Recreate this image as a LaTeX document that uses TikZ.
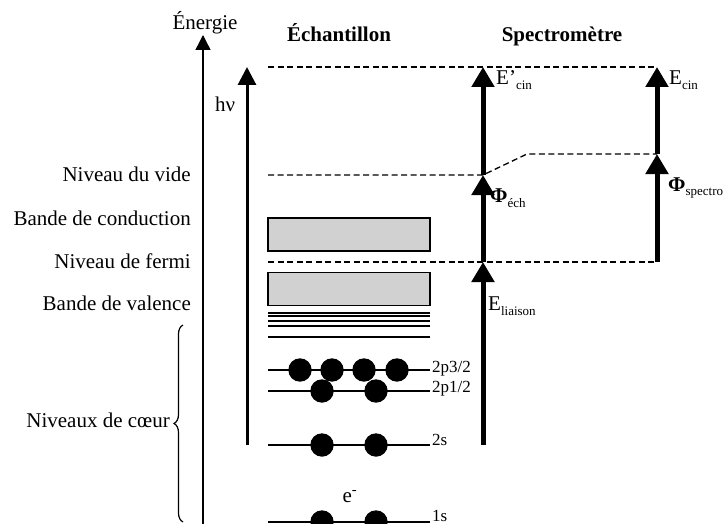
\documentclass[tikz,border=0pt]{standalone}
\usepackage{fontspec}
\setmainfont{Liberation Serif}
\usepackage{tikz}
\usetikzlibrary{arrows.meta, decorations.pathreplacing}

\newcommand{\lowsub}[1]{\raisebox{-0.5ex}{\fontsize{13}{13}\selectfont #1}}

\begin{document}
\begin{tikzpicture}[x=1pt, y=-1pt,
  txt/.style={font=\fontsize{21}{24}\selectfont, inner sep=0pt},
  lvl/.style={txt, anchor=base east},
  head/.style={txt, font=\fontsize{21}{24}\selectfont\bfseries, anchor=base},
  orb/.style={font=\fontsize{17}{20}\selectfont, inner sep=0pt, anchor=base west},
  band/.style={draw, line width=1.2pt, fill=black!18, minimum width=162pt,
               minimum height=33pt, inner sep=0pt},
  lvline/.style={line width=1.4pt},
  dashlvl/.style={line width=1.3pt, dash pattern=on 6pt off 3.5pt},
  axarr/.style={line width=1.4pt, -{Triangle[width=15pt,length=15pt]}},
  hvarr/.style={line width=3pt, -{Triangle[width=18pt,length=18pt]}},
  sparr/.style={line width=5pt, -{Triangle[width=22pt,length=20pt]}}]

  \useasboundingbox (0,0) rectangle (728,524);

  % titles
  \node[txt, anchor=base] (en) at (205,30) {Énergie};
  \node[head] (ech) at (339,42) {Échantillon};
  \node[head] (spec) at (562,42) {Spectromètre};

  % level names (left)
  \node[lvl] (nvide) at (191,181) {Niveau du vide};
  \node[lvl] (bcond) at (191,225) {Bande de conduction};
  \node[lvl] (nferm) at (191,268) {Niveau de fermi};
  \node[lvl] (bval)  at (191,310) {Bande de valence};
  \node[lvl] (ncoeur) at (170,427) {Niveaux de cœur};

  % energy axis and photon
  \coordinate (axB) at (203,526);
  \coordinate (axT) at (203,35);
  \draw[axarr] (axB) -- (axT);
  \coordinate (hvB) at (247,445);
  \coordinate (hvT) at (247,67);
  \draw[hvarr] (hvB) -- (hvT);
  \node[txt] (hv) at (225,104) {hν};

  % core levels brace
  \coordinate (brB) at (183,522);
  \coordinate (brT) at (183,325);
  \draw[line width=1.2pt, decorate, decoration={brace, amplitude=9pt}] (brB) -- (brT);

  % bands
  \node[band] (cb) at (349,234.5) {};
  \node[band] (vb) at (349,289) {};
  \foreach \y/\w in {312.7/2.2, 315.6/2.2, 320.8/1.6, 326/1.6, 336.8/1.6}
    \draw[line width=\w pt] (268,\y) -- (430,\y);

  % dashed levels
  \coordinate (topL) at (268,67);
  \coordinate (topR) at (657,67);
  \coordinate (vidL) at (268,175);
  \coordinate (vidM) at (483,175);
  \coordinate (vidK) at (527,154);
  \coordinate (vidR) at (657,154);
  \coordinate (ferL) at (268,262);
  \coordinate (ferM) at (483,262);
  \coordinate (ferR) at (657,262);
  \draw[dashlvl] (topL) -- (topR);
  \draw[dashlvl] (vidL) -- (vidM) -- (vidK) -- (vidR);
  \draw[dashlvl] (ferL) -- (ferR);

  % core orbitals
  \draw[lvline] (268,370) -- (430,370);
  \draw[lvline] (268,391) -- (430,391);
  \draw[lvline] (268,445) -- (430,445);
  \draw[lvline] (268,522) -- (430,522);
  \foreach \x in {300,332,364,397}
    \fill (\x,370) circle (11.7);
  \foreach \y in {391,445,522}
    \foreach \x in {322,376}
      \fill (\x,\y) circle (11.7);
  \node[orb] (o2p3) at (432,372) {2p3/2};
  \node[orb] (o2p1) at (432,392) {2p1/2};
  \node[orb] (o2s) at (432,445) {2s};
  \node[orb] (o1s) at (432,521) {1s};
  \node[txt, anchor=base] (elec) at (350,502) {e\textsuperscript{-}};

  % spectrometer arrows
  \coordinate (spB) at (483,445);
  \coordinate (spT) at (483,67);
  \draw[sparr] (spB) -- (ferM);
  \draw[sparr] (ferM) -- (vidM);
  \draw[sparr] (vidM) -- (spT);
  \draw[sparr] (ferR) -- (vidR);
  \draw[sparr] (vidR) -- (topR);

  \node[txt, anchor=west] (ecp) at (496,80) {E’\lowsub{cin}};
  \node[txt, anchor=west] (ec)  at (669,80) {E\lowsub{cin}};
  \node[txt, anchor=west] (phe) at (490,198) {\textbf{Φ}\lowsub{éch}};
  \node[txt, anchor=west] (phs) at (668,188) {\textbf{Φ}\lowsub{spectro}};
  \node[txt, anchor=west] (eli) at (488,306) {E\lowsub{liaison}};
\end{tikzpicture}
\end{document}
